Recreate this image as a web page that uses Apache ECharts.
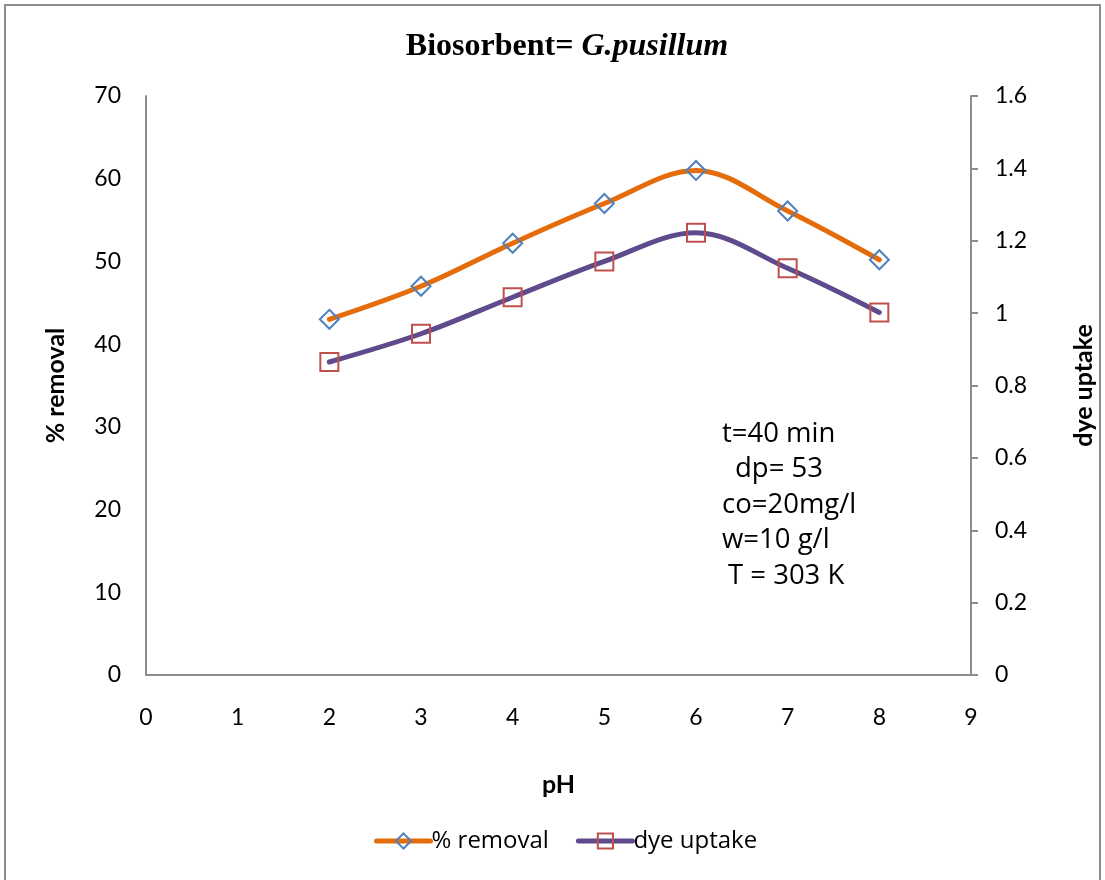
<!DOCTYPE html>
<html>
<head>
<meta charset="utf-8">
<script src="https://cdn.jsdelivr.net/npm/echarts@6/dist/echarts.min.js"></script>
<style>
html,body{margin:0;padding:0;background:#fff;}
#frame{position:absolute;left:4px;top:4px;width:1097px;height:900px;border-left:2px solid #8c8c8c;border-top:2px solid #8c8c8c;border-right:2px solid #8c8c8c;box-sizing:border-box;}
#chart{position:absolute;left:0;top:0;width:1105px;height:880px;}
</style>
</head>
<body>
<div id="frame"></div>
<div id="chart"></div>
<script>
const pH = [2, 3, 4, 5, 6, 7, 8];
const removal = [43, 47, 52.2, 57, 61, 56.1, 50.2];
const uptake = [0.865, 0.943, 1.044, 1.143, 1.222, 1.124, 1.002];
const notes = ['t=40 min', ' dp= 53', 'co=20mg/l', 'w=10 g/l', ' T = 303 K'];

const font = 'Lato, "Open Sans", sans-serif';
const noteFont = '"Open Sans", Lato, sans-serif';
const axisGray = '#8c8c8c';
const chart = echarts.init(document.getElementById('chart'));

const noteGraphics = notes.map((t, i) => ({
  type: 'text',
  x: 722 + (t.startsWith(' ') ? (i === 1 ? 13 : 6) : 0),
  y: 434 + i * 35.5,
  style: { text: t.trim(), font: '27.5px ' + noteFont, fill: '#000', verticalAlign: 'middle' }
}));

chart.setOption({
  animation: false,
  title: {
    text: '{b|Biosorbent= }{i|G.pusillum}',
    left: 562,
    textAlign: 'center',
    top: 26,
    textStyle: {
      rich: {
        b: { fontFamily: '"Liberation Serif", "Times New Roman", serif', fontWeight: 'bold', fontSize: 32, color: '#000' },
        i: { fontFamily: '"Liberation Serif", "Times New Roman", serif', fontWeight: 'bold', fontStyle: 'italic', fontSize: 32, color: '#000' }
      }
    }
  },
  grid: { left: 146, right: 134, top: 96, bottom: 205, containLabel: false },
  legend: {
    bottom: 22,
    left: 369,
    itemWidth: 54,
    itemHeight: 19,
    itemGap: 27,
    textStyle: { fontFamily: noteFont, fontSize: 24, color: '#000', padding: [0, 0, 0, -4] },
    lineStyle: { width: 5 },
    data: ['% removal', 'dye uptake']
  },
  xAxis: {
    type: 'value',
    min: 0, max: 9, interval: 1,
    name: 'pH',
    nameLocation: 'middle',
    nameGap: 97,
    nameTextStyle: { fontFamily: font, fontWeight: 'bold', fontSize: 25, color: '#000' },
    axisLine: { lineStyle: { color: axisGray, width: 2 } },
    axisTick: { show: false },
    splitLine: { show: false },
    axisLabel: { fontFamily: font, fontSize: 23, color: '#000', margin: 31 }
  },
  yAxis: [
    {
      type: 'value',
      min: 0, max: 70, interval: 10,
      name: '% removal',
      nameLocation: 'middle',
      nameGap: 78,
      nameRotate: 90,
      nameTextStyle: { fontFamily: font, fontWeight: 'bold', fontSize: 25, color: '#000' },
      axisLine: { show: true, lineStyle: { color: axisGray, width: 2 } },
      axisTick: { show: false },
      splitLine: { show: false },
      axisLabel: { fontFamily: font, fontSize: 23, color: '#000', margin: 25 }
    },
    {
      type: 'value',
      position: 'right',
      min: 0, max: 1.6, interval: 0.2,
      name: 'dye uptake',
      nameLocation: 'middle',
      nameGap: 100,
      nameRotate: 90,
      nameTextStyle: { fontFamily: font, fontWeight: 'bold', fontSize: 25, color: '#000' },
      axisLine: { show: true, lineStyle: { color: axisGray, width: 2 } },
      axisTick: { show: true, length: 7, lineStyle: { color: axisGray, width: 2 } },
      splitLine: { show: false },
      axisLabel: {
        fontFamily: font, fontSize: 23, color: '#000', margin: 24,
        formatter: v => String(Math.round(v * 10) / 10)
      }
    }
  ],
  series: [
    {
      name: '% removal',
      type: 'line',
      yAxisIndex: 0,
      smooth: 0.35,
      data: pH.map((x, i) => [x, removal[i]]),
      symbol: 'diamond',
      symbolSize: 19,
      lineStyle: { color: '#E46C0A', width: 5, cap: 'round' },
      itemStyle: { color: 'rgba(255,255,255,0)', borderColor: '#4F81BD', borderWidth: 2 },
      z: 3
    },
    {
      name: 'dye uptake',
      type: 'line',
      yAxisIndex: 1,
      smooth: 0.35,
      data: pH.map((x, i) => [x, uptake[i]]),
      symbol: 'rect',
      symbolSize: 18,
      lineStyle: { color: '#5F4B8B', width: 5, cap: 'round' },
      itemStyle: { color: 'rgba(255,255,255,0)', borderColor: '#C0504D', borderWidth: 2 },
      z: 2
    }
  ],
  graphic: noteGraphics
});
</script>
</body>
</html>
